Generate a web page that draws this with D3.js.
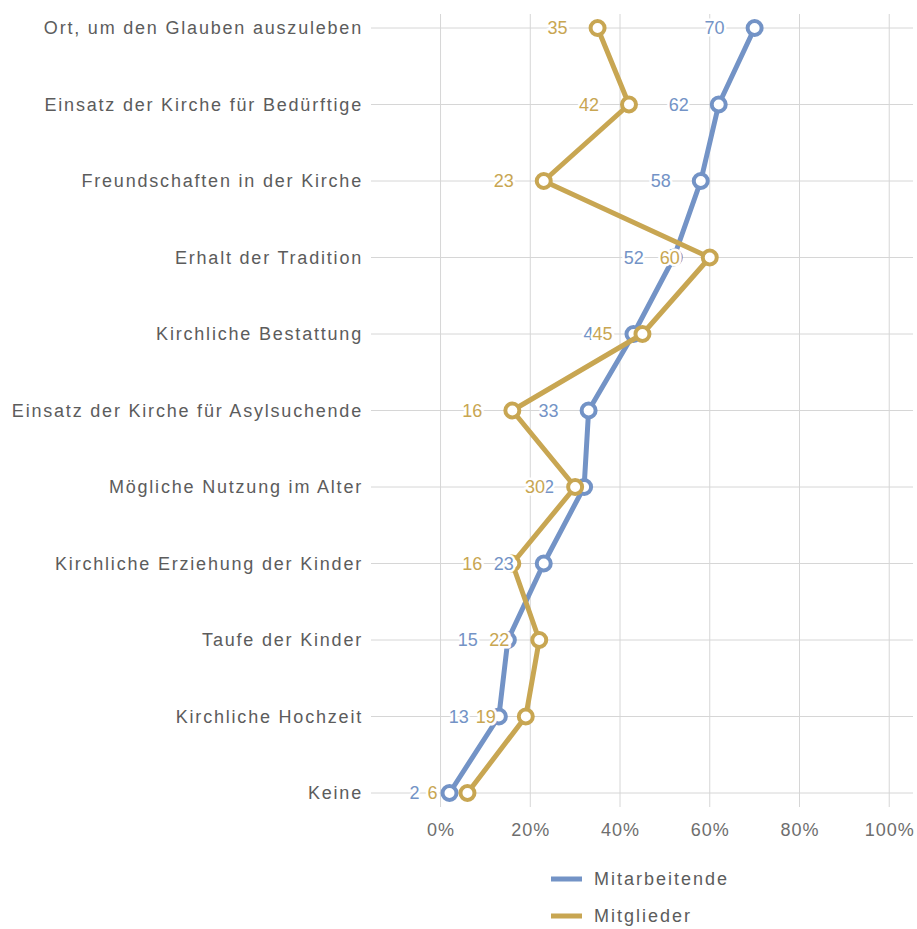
<!DOCTYPE html>
<html>
<head>
<meta charset="utf-8">
<script src="https://cdn.jsdelivr.net/npm/d3@7"></script>
<style>
  body { margin: 0; background: #fff; }
  text { font-family: "Liberation Sans", Arial, sans-serif; }
</style>
</head>
<body>
<div id="chart"></div>
<script>
const categories = [
  'Ort, um den Glauben auszuleben',
  'Einsatz der Kirche für Bedürftige',
  'Freundschaften in der Kirche',
  'Erhalt der Tradition',
  'Kirchliche Bestattung',
  'Einsatz der Kirche für Asylsuchende',
  'Mögliche Nutzung im Alter',
  'Kirchliche Erziehung der Kinder',
  'Taufe der Kinder',
  'Kirchliche Hochzeit',
  'Keine'
];
const mitarbeitende = [70, 62, 58, 52, 43, 33, 32, 23, 15, 13, 2];
const mitglieder = [35, 42, 23, 60, 45, 16, 30, 16, 22, 19, 6];
const xTicks = [0, 20, 40, 60, 80, 100];

const series = [
  { name: 'Mitarbeitende', values: mitarbeitende, color: '#7393c6' },
  { name: 'Mitglieder', values: mitglieder, color: '#c8a652' }
];

const width = 917, height = 929;

const svg = d3.select('#chart')
  .append('svg')
  .attr('width', width)
  .attr('height', height);

const x = d3.scaleLinear().domain([-15.5, 105.3]).range([371, 913]);
const y = d3.scalePoint().domain(categories).range([28, 793]);

// grid
svg.append('g')
  .selectAll('line')
  .data(xTicks)
  .enter()
  .append('line')
  .attr('x1', d => x(d)).attr('x2', d => x(d))
  .attr('y1', 14).attr('y2', 807)
  .attr('stroke', '#d6d6d6')
  .attr('stroke-width', 1);

svg.append('g')
  .selectAll('line')
  .data(categories)
  .enter()
  .append('line')
  .attr('x1', 371).attr('x2', 913)
  .attr('y1', d => y(d)).attr('y2', d => y(d))
  .attr('stroke', '#d6d6d6')
  .attr('stroke-width', 1);

// category labels
svg.append('g')
  .selectAll('text')
  .data(categories)
  .enter()
  .append('text')
  .attr('x', 363)
  .attr('y', d => y(d))
  .attr('dy', '0.35em')
  .attr('text-anchor', 'end')
  .attr('fill', '#5c5c5c')
  .style('font-size', '18px')
  .style('letter-spacing', '1.8px')
  .text(d => d);

// x tick labels
svg.append('g')
  .selectAll('text')
  .data(xTicks)
  .enter()
  .append('text')
  .attr('x', d => x(d) + 0.5)
  .attr('y', 830)
  .attr('dy', '0.35em')
  .attr('text-anchor', 'middle')
  .attr('fill', '#6e6e6e')
  .style('font-size', '18px')
  .style('letter-spacing', '1px')
  .text(d => d + '%');

const line = d3.line()
  .x(d => x(d.v))
  .y(d => y(d.c));

const pts = s => s.values.map((v, i) => ({ v: v, c: categories[i] }));

// lines and markers
series.forEach(s => {
  const g = svg.append('g');
  g.append('path')
    .datum(pts(s))
    .attr('d', line)
    .attr('fill', 'none')
    .attr('stroke', s.color)
    .attr('stroke-width', 5)
    .attr('stroke-linejoin', 'round');
  g.selectAll('circle')
    .data(pts(s))
    .enter()
    .append('circle')
    .attr('cx', d => x(d.v))
    .attr('cy', d => y(d.c))
    .attr('r', 7)
    .attr('fill', '#fff')
    .attr('stroke', s.color)
    .attr('stroke-width', 4);
});

// value labels on top, with white halo
series.forEach(s => {
  svg.append('g')
    .selectAll('text')
    .data(pts(s))
    .enter()
    .append('text')
    .attr('x', d => x(d.v) - 30)
    .attr('y', d => y(d.c))
    .attr('dy', '0.35em')
    .attr('text-anchor', 'end')
    .attr('fill', s.color)
    .attr('stroke', '#fff')
    .attr('stroke-width', 5)
    .attr('stroke-linejoin', 'round')
    .attr('paint-order', 'stroke')
    .style('font-size', '18px')
    .text(d => d.v);
});

// legend
const legend = svg.append('g')
  .selectAll('g')
  .data(series)
  .enter()
  .append('g')
  .attr('transform', (d, i) => `translate(551,${879 + i * 37})`);

legend.append('rect')
  .attr('x', 0).attr('y', -2.5)
  .attr('width', 31).attr('height', 5)
  .attr('fill', d => d.color);

legend.append('text')
  .attr('x', 43)
  .attr('y', 0)
  .attr('dy', '0.35em')
  .attr('fill', '#5c5c5c')
  .style('font-size', '18px')
  .style('letter-spacing', '2px')
  .text(d => d.name);
</script>
</body>
</html>
